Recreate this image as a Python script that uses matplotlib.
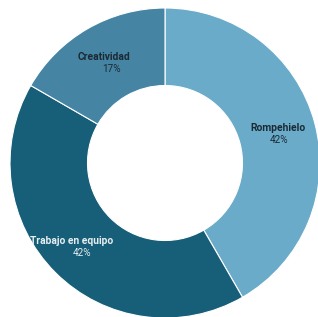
import matplotlib
matplotlib.use("Agg")
import matplotlib.pyplot as plt

categories = ["Rompehielo", "Trabajo en equipo", "Creatividad"]
values = [5, 5, 2]
pct_labels = ["42%", "42%", "17%"]
colors = ["#6aabc9", "#175e78", "#4584a3"]
text_colors = ["#1b2a33", "#e6eef2", "#1b2a33"]

W, H = 318, 317
cx, cy, R = 165, 163, 155

fig = plt.figure(figsize=(W/100, H/100), dpi=100)
ax = fig.add_axes([(cx - R)/W, (H - cy - R)/H, 2*R/W, 2*R/H])
ax.pie(values, colors=colors, startangle=90, counterclock=False, radius=1.0,
       wedgeprops=dict(width=0.5, edgecolor="white", linewidth=0.8))
ax.set_xlim(-1, 1)
ax.set_ylim(-1, 1)
ax.set_aspect("equal")
ax.axis("off")

def d(px, py):
    return (px - cx)/R, (cy - py)/R

# label pixel positions (name, pct)
pos = {
    "Rompehielo": ((278, 128), (278.5, 140)),
    "Trabajo en equipo": ((72, 241), (82, 253)),
    "Creatividad": ((104, 57), (111, 69)),
}
for cat, pl, tc in zip(categories, pct_labels, text_colors):
    (nx, ny), (px, py) = pos[cat]
    x, y = d(nx, ny)
    ax.text(x, y, cat, ha="center", va="center", fontsize=7.4, fontweight="bold",
            family="Roboto", color=tc)
    x, y = d(px, py)
    ax.text(x, y, pl, ha="center", va="center", fontsize=7.2,
            family="Roboto", color=tc)

fig.savefig("out.png", dpi=100)
